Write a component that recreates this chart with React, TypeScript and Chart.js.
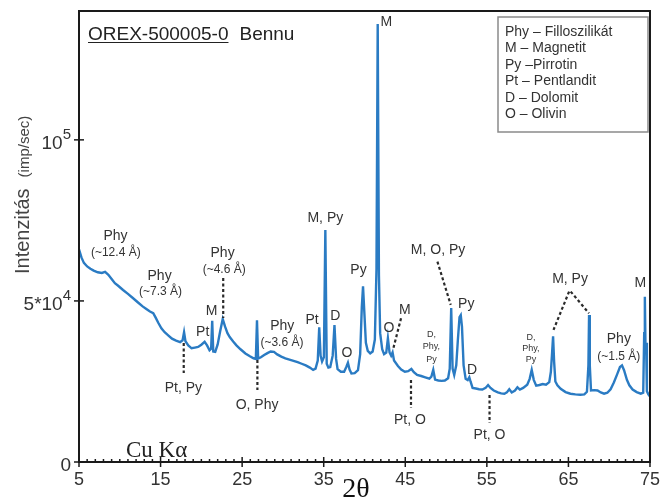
import React, { useEffect, useRef } from 'react';
import { Chart, registerables } from 'chart.js';

Chart.register(...registerables);

// ---- data (2θ in degrees, intensity in imp/sec) ----
const twoTheta = [
  5.0, 5.3, 5.6, 6.0, 6.4, 6.8, 7.3, 7.8, 8.2, 8.6, 9.0, 9.4, 9.8, 10.4, 11.0, 11.6, 12.2, 12.8, 13.3, 13.7,
  14.1, 14.4, 14.7, 15.1, 15.5, 15.9, 16.4, 16.9, 17.4, 17.7, 17.88, 18.05, 18.4, 18.8, 19.2, 19.6, 20.0, 20.4, 20.7, 21.0,
  21.2, 21.33, 21.46, 21.7, 22.0, 22.3, 22.62, 22.9, 23.2, 23.5, 23.9, 24.3, 24.8, 25.4, 25.9, 26.4, 26.68, 26.82, 26.96, 27.3,
  27.7, 28.1, 28.5, 28.9, 29.3, 29.8, 30.3, 30.8, 31.3, 31.8, 32.3, 32.8, 33.3, 33.7, 34.0, 34.27, 34.45, 34.62, 34.8, 35.02,
  35.2, 35.37, 35.57, 35.8, 36.1, 36.32, 36.52, 36.7, 37.1, 37.5, 37.77, 37.97, 38.17, 38.4, 38.8, 39.2, 39.47, 39.67, 39.82, 39.97,
  40.17, 40.4, 40.7, 41.0, 41.27, 41.47, 41.62, 41.77, 41.92, 42.17, 42.4, 42.67, 42.87, 43.07, 43.27, 43.44, 43.62, 44.1, 44.5, 44.95,
  45.35, 45.75, 46.05, 46.45, 46.95, 47.45, 47.95, 48.2, 48.43, 48.65, 49.05, 49.45, 49.85, 50.25, 50.45, 50.63, 50.8, 51.0, 51.25, 51.45,
  51.65, 51.8, 51.95, 52.15, 52.4, 52.65, 52.85, 53.0, 53.25, 53.65, 54.05, 54.45, 54.85, 55.15, 55.45, 55.85, 56.35, 56.75, 57.15, 57.45,
  57.75, 58.05, 58.45, 58.75, 59.05, 59.45, 59.95, 60.25, 60.5, 60.75, 61.05, 61.45, 61.85, 62.25, 62.65, 62.85, 63.0, 63.12, 63.25, 63.4,
  63.65, 64.05, 64.65, 65.25, 65.85, 66.45, 66.95, 67.27, 67.45, 67.53, 67.62, 67.77, 68.17, 68.57, 68.97, 69.37, 69.77, 70.17, 70.57, 70.97,
  71.32, 71.57, 71.82, 72.17, 72.47, 72.87, 73.37, 73.87, 74.17, 74.29, 74.37, 74.45, 74.52, 74.62, 74.8, 75.0
];
const intensity = [
  66000, 63500, 61800, 60700, 60000, 59400, 58900, 58700, 59000, 58100, 56800, 55500, 54700, 53400, 52200, 50900, 49600, 48300, 47400, 46700,
  46200, 44800, 43300, 41500, 40300, 39400, 38300, 37700, 37200, 37800, 40300, 37500, 36200, 35300, 35500, 35700, 36400, 37300, 36200, 34700,
  35200, 43800, 34300, 34200, 36500, 40500, 44400, 42100, 40000, 38700, 37400, 36200, 35000, 33700, 32900, 32200, 32000, 44000, 32100, 32500,
  33200, 33800, 34300, 34200, 33400, 32700, 32200, 31800, 31400, 31000, 30500, 30000, 29300, 28600, 29000, 31500, 41800, 33000, 31200, 32500,
  72000, 30500, 29300, 29500, 33000, 42500, 32000, 28800, 28000, 28000, 29500, 30800, 28700, 27500, 27600, 28500, 33500, 48000, 54500, 47000,
  37000, 34500, 33700, 34300, 38000, 60000, 136000, 58000, 40000, 35000, 33500, 34000, 38400, 34000, 33000, 34000, 31500, 29800, 28700, 28000,
  28200, 28900, 27900, 27000, 26700, 26300, 25900, 26500, 28600, 25600, 25300, 25200, 25300, 26000, 29000, 47800, 29000, 27000, 30000, 38000,
  45000, 45600, 42000, 30000, 25800, 25400, 26300, 25000, 23000, 22800, 22600, 22500, 23000, 23900, 23000, 22200, 21600, 21300, 21200, 21600,
  22600, 21600, 22200, 23200, 22500, 23000, 24000, 25800, 28600, 25500, 23700, 23900, 24200, 24000, 24800, 28000, 34000, 39000, 31000, 25000,
  23800, 22700, 21700, 21200, 21000, 20900, 21000, 21800, 30000, 45600, 30000, 22200, 22300, 22200, 21600, 21200, 21500, 22600, 24700, 27200,
  29500, 30000, 28500, 25500, 23800, 22500, 21700, 21200, 21500, 40000, 51300, 36000, 37000, 22000, 21000, 20300
];

const xMajorTicks = [5, 15, 25, 35, 45, 55, 65, 75];
const yTickValues = [0, 50000, 100000];
const yTickBase = ['0', '5*10', '10'];
const yTickExp = ['', '4', '5'];

const legendLines = [
  'Phy – Filloszilikát',
  'M – Magnetit',
  'Py –Pirrotin',
  'Pt – Pentlandit',
  'D – Dolomit',
  'O – Olivin'
];
const sampleId = 'OREX-500005-0';
const sampleName = 'Bennu';
const yTitleMain = 'Intenzitás';
const yTitleUnit = '(imp/sec)';
const xTitle = '2θ';
const radiation = 'Cu Kα';

// peak labels anchored in data coordinates (2θ, intensity)
const peakLabels = [
  { text: 'Phy', t: 9.48, v: 69970, size: 14 },
  { text: '(~12.4 Å)', t: 9.51, v: 64900, size: 12 },
  { text: 'Phy', t: 14.88, v: 57550, size: 14 },
  { text: '(~7.3 Å)', t: 15.0, v: 52890, size: 12 },
  { text: 'Phy', t: 22.6, v: 64810, size: 14 },
  { text: '(~4.6 Å)', t: 22.8, v: 59630, size: 12 },
  { text: 'M', t: 21.26, v: 46900, size: 14 },
  { text: 'Pt', t: 20.16, v: 40160, size: 14 },
  { text: 'Pt, Py', t: 17.8, v: 22980, size: 14 },
  { text: 'O, Phy', t: 26.83, v: 17700, size: 14 },
  { text: 'Phy', t: 29.91, v: 42020, size: 14 },
  { text: '(~3.6 Å)', t: 29.88, v: 37050, size: 12 },
  { text: 'Pt', t: 33.57, v: 44100, size: 14 },
  { text: 'M, Py', t: 35.2, v: 75680, size: 14 },
  { text: 'D', t: 36.43, v: 45130, size: 14 },
  { text: 'O', t: 37.84, v: 33760, size: 14 },
  { text: 'Py', t: 39.27, v: 59630, size: 14 },
  { text: 'M', t: 42.68, v: 136650, size: 14 },
  { text: 'O', t: 43.0, v: 41520, size: 14 },
  { text: 'M', t: 44.96, v: 47200, size: 14 },
  { text: 'Pt, O', t: 45.57, v: 13040, size: 14 },
  { text: 'M, O, Py', t: 49.02, v: 65840, size: 14 },
  { text: 'Py', t: 52.48, v: 49070, size: 14 },
  { text: 'D,', t: 48.2, v: 39440, size: 9 },
  { text: 'Phy,', t: 48.2, v: 35810, size: 9 },
  { text: 'Py', t: 48.2, v: 31900, size: 9 },
  { text: 'D', t: 53.2, v: 28570, size: 14 },
  { text: 'Pt, O', t: 55.33, v: 8385, size: 14 },
  { text: 'D,', t: 60.4, v: 38720, size: 9 },
  { text: 'Phy,', t: 60.4, v: 35310, size: 9 },
  { text: 'Py', t: 60.4, v: 31680, size: 9 },
  { text: 'M, Py', t: 65.2, v: 56740, size: 14 },
  { text: 'M', t: 73.82, v: 55500, size: 14 },
  { text: 'Phy', t: 71.18, v: 38100, size: 14 },
  { text: '(~1.5 Å)', t: 71.18, v: 32700, size: 12 }
];

const leaders = [
  { t1: 22.68, v1: 57140, t2: 22.68, v2: 44720 },
  { t1: 17.84, v1: 36960, t2: 17.84, v2: 27640 },
  { t1: 26.87, v1: 31680, t2: 26.87, v2: 22360 },
  { t1: 44.48, v1: 44630, t2: 43.54, v2: 35310 },
  { t1: 45.7, v1: 25470, t2: 45.7, v2: 16770 },
  { t1: 48.94, v1: 62200, t2: 50.57, v2: 48760 },
  { t1: 55.33, v1: 20810, t2: 55.33, v2: 12110 },
  { t1: 65.08, v1: 52890, t2: 63.17, v2: 40990 },
  { t1: 65.28, v1: 52890, t2: 67.52, v2: 46180 }
];

const SANS = '"Liberation Sans", Arial, sans-serif';
const SERIF = '"Liberation Serif", "Times New Roman", serif';

const decorPlugin = {
  id: 'decor',
  afterDraw(chart: any) {
    const { ctx, chartArea: a, scales } = chart;
    const x = scales.x;
    const y = scales.y;
    ctx.save();

    // frame
    ctx.strokeStyle = '#1a1a1a';
    ctx.lineWidth = 2;
    ctx.strokeRect(a.left, a.top, a.right - a.left, a.bottom - a.top);

    // x tick marks
    ctx.lineWidth = 1.5;
    x.ticks.forEach((tk: any) => {
      const px = x.getPixelForValue(tk.value);
      const major = xMajorTicks.includes(tk.value);
      ctx.beginPath();
      ctx.moveTo(px, a.bottom - (major ? 5 : 3));
      ctx.lineTo(px, a.bottom + (major ? 5 : 0));
      ctx.stroke();
    });

    // y tick marks + labels
    yTickValues.forEach((val, i) => {
      const py = y.getPixelForValue(val);
      ctx.strokeStyle = '#1a1a1a';
      ctx.lineWidth = 1.5;
      ctx.beginPath();
      ctx.moveTo(a.left - 5, py);
      ctx.lineTo(a.left + 5, py);
      ctx.stroke();
      ctx.fillStyle = '#333';
      ctx.textBaseline = 'alphabetic';
      ctx.textAlign = 'right';
      let right = a.left - 8;
      if (yTickExp[i]) {
        ctx.font = `15px ${SANS}`;
        ctx.fillText(yTickExp[i], right, py - 1);
        right -= ctx.measureText(yTickExp[i]).width;
      }
      ctx.font = `19px ${SANS}`;
      ctx.fillText(yTickBase[i], right, py + 9);
    });

    // y axis title (rotated)
    ctx.save();
    ctx.translate(29, 274);
    ctx.rotate(-Math.PI / 2);
    ctx.textAlign = 'left';
    ctx.textBaseline = 'alphabetic';
    ctx.fillStyle = '#444';
    ctx.font = `20px ${SANS}`;
    ctx.fillText(yTitleMain, 0, 0);
    const w1 = ctx.measureText(yTitleMain).width;
    ctx.font = `15px ${SANS}`;
    ctx.fillText(yTitleUnit, w1 + 11, 0);
    ctx.restore();

    // x axis title
    ctx.fillStyle = '#111';
    ctx.textAlign = 'center';
    ctx.textBaseline = 'middle';
    ctx.font = `28px ${SERIF}`;
    ctx.fillText(xTitle, 356, 490);

    // radiation label
    ctx.textAlign = 'left';
    ctx.font = `23px ${SERIF}`;
    ctx.fillStyle = '#222';
    ctx.fillText(radiation, 126, 451);

    // sample title
    ctx.textBaseline = 'alphabetic';
    ctx.font = `19px ${SANS}`;
    ctx.fillStyle = '#222';
    ctx.fillText(sampleId, 88, 40);
    const wId = ctx.measureText(sampleId).width;
    ctx.strokeStyle = '#222';
    ctx.lineWidth = 1.2;
    ctx.beginPath();
    ctx.moveTo(88, 42.5);
    ctx.lineTo(88 + wId, 42.5);
    ctx.stroke();
    ctx.fillText(sampleName, 88 + wId + 11, 40);

    // legend box
    ctx.fillStyle = '#fff';
    ctx.fillRect(498, 17, 150, 115);
    ctx.strokeStyle = '#8a8a8a';
    ctx.lineWidth = 1.5;
    ctx.strokeRect(498, 17, 150, 115);
    ctx.fillStyle = '#333';
    ctx.font = `14px ${SANS}`;
    ctx.textBaseline = 'middle';
    legendLines.forEach((line, i) => {
      ctx.fillText(line, 505, 32 + i * 16.5);
    });

    // leader lines
    ctx.strokeStyle = '#2a2a2a';
    ctx.lineWidth = 2.2;
    ctx.setLineDash([3, 2.5]);
    leaders.forEach((l) => {
      ctx.beginPath();
      ctx.moveTo(x.getPixelForValue(l.t1), y.getPixelForValue(l.v1));
      ctx.lineTo(x.getPixelForValue(l.t2), y.getPixelForValue(l.v2));
      ctx.stroke();
    });
    ctx.setLineDash([]);

    // peak labels
    ctx.fillStyle = '#333';
    ctx.textAlign = 'center';
    ctx.textBaseline = 'middle';
    peakLabels.forEach((p) => {
      ctx.font = `${p.size}px ${SANS}`;
      ctx.fillText(p.text, x.getPixelForValue(p.t), y.getPixelForValue(p.v));
    });

    ctx.restore();
  }
};

export default function App() {
  const canvasRef = useRef<HTMLCanvasElement | null>(null);

  useEffect(() => {
    if (!canvasRef.current) return;
    Chart.defaults.font.family = SANS;
    const chart = new Chart(canvasRef.current, {
      type: 'line',
      data: {
        datasets: [
          {
            data: twoTheta.map((t, i) => ({ x: t, y: intensity[i] })),
            borderColor: '#2a7bc3',
            borderWidth: 2.4,
            pointRadius: 0,
            tension: 0,
            fill: false
          }
        ]
      },
      options: {
        responsive: false,
        animation: false,
        events: [],
        layout: { padding: { left: 0, right: 14, top: 11, bottom: 0 } },
        plugins: {
          legend: { display: false },
          tooltip: { enabled: false },
          title: { display: false }
        },
        scales: {
          x: {
            type: 'linear',
            min: 5,
            max: 75,
            grid: { display: false, drawTicks: false },
            border: { display: false },
            ticks: {
              stepSize: 1,
              autoSkip: false,
              maxRotation: 0,
              minRotation: 0,
              padding: 7,
              color: '#333',
              font: { size: 18, family: SANS },
              callback: (v: any) => (xMajorTicks.includes(Number(v)) ? String(v) : '')
            },
            afterFit: (s: any) => {
              s.height = 42;
            }
          },
          y: {
            type: 'linear',
            min: 0,
            max: 140000,
            grid: { display: false, drawTicks: false },
            border: { display: false },
            ticks: { display: false, stepSize: 50000 },
            afterFit: (s: any) => {
              s.width = 79;
            }
          }
        }
      },
      plugins: [decorPlugin]
    });
    return () => chart.destroy();
  }, []);

  return (
    <div style={{ position: 'fixed', left: 0, top: 0, width: 667, height: 504, background: '#fff' }}>
      <canvas ref={canvasRef} width={667} height={504} style={{ display: 'block' }} />
    </div>
  );
}
